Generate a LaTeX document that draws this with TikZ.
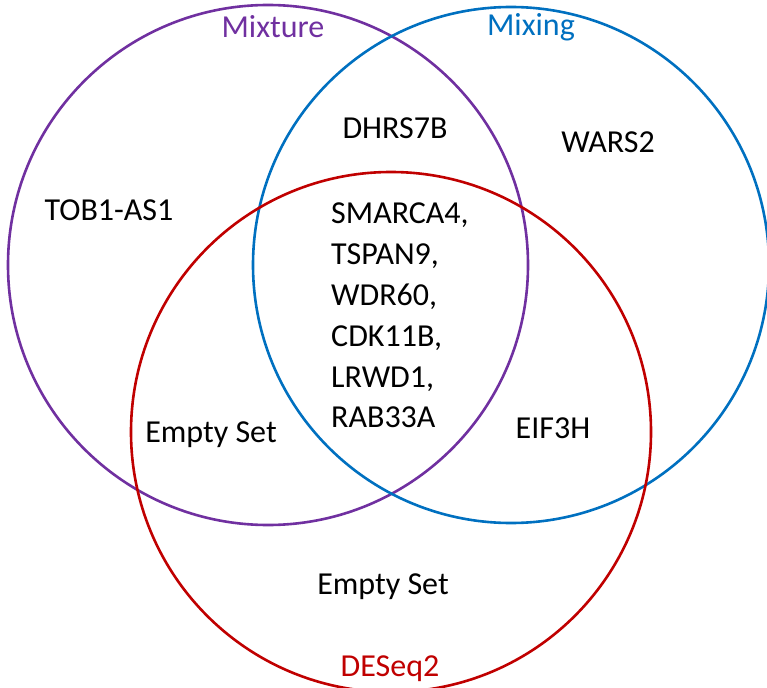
\documentclass[tikz,border=0pt]{standalone}
\usepackage{fontspec}
\setmainfont{Carlito}
\definecolor{cmix}{HTML}{7030A0}
\definecolor{cmixing}{HTML}{0070C0}
\definecolor{cdes}{HTML}{C00000}
\begin{document}
\begin{tikzpicture}[x=1pt,y=-1pt,
  setcirc/.style={circle,draw,line width=2.6pt,inner sep=0pt},
  lbl/.style={font=\fontsize{32}{40.8}\selectfont,inner sep=0pt,text=black},
  setname/.style={lbl}]
\useasboundingbox (0,0) rectangle (767,687);
\clip (0,0) rectangle (767,687);
\node[setcirc,draw=cmix,minimum size=520pt] (cmixture) at (268,265) {};
\node[setcirc,draw=cmixing,minimum size=516pt] (cmixing) at (511,265) {};
\node[setcirc,draw=cdes,minimum size=520pt] (cdeseq) at (391,432) {};
\node[setname,text=cmix] (nmixture) at (273,27) {Mixture};
\node[setname,text=cmixing] (nmixing) at (531,27) {Mixing};
\node[setname,text=cdes,fill=white,inner xsep=2pt,inner ysep=1pt] (ndeseq) at (390,669) {DESeq2};
\node[lbl] (dhrs) at (395,128) {DHRS7B};
\node[lbl] (wars) at (608,142) {WARS2};
\node[lbl] (tob) at (109,210) {TOB1-AS1};
\node[lbl,align=left,anchor=north west] (core) at (331,203) {SMARCA4,\\TSPAN9,\\WDR60,\\CDK11B,\\LRWD1,\\RAB33A};
\node[lbl] (emptyl) at (211,435) {Empty Set};
\node[lbl] (eif) at (553,428) {EIF3H};
\node[lbl] (emptyb) at (383,587) {Empty Set};
\end{tikzpicture}
\end{document}
